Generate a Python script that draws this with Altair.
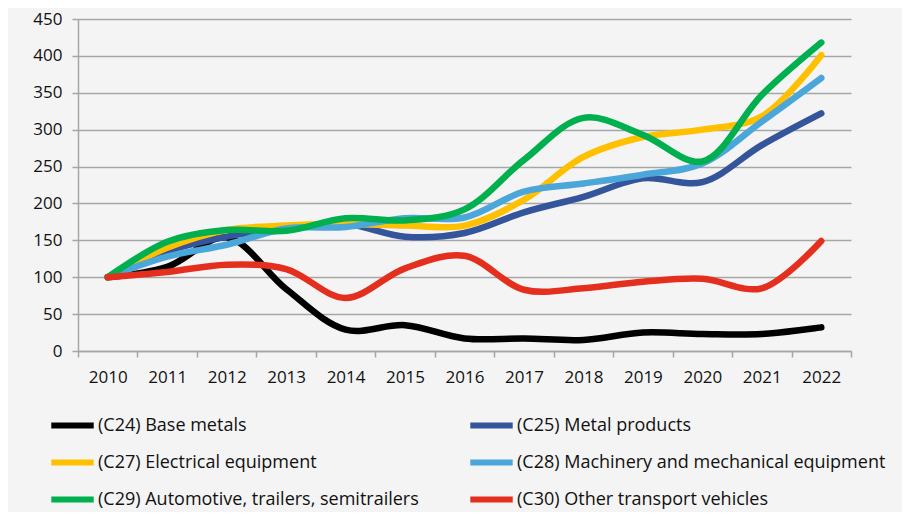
import altair as alt
import pandas as pd

years = ["2010", "2011", "2012", "2013", "2014", "2015", "2016",
         "2017", "2018", "2019", "2020", "2021", "2022"]

series_names = [
    "(C24) Base metals",
    "(C25) Metal products",
    "(C27) Electrical equipment",
    "(C28) Machinery and mechanical equipment",
    "(C29) Automotive, trailers, semitrailers",
    "(C30) Other transport vehicles",
]

c24 = [100, 114, 154, 84, 29, 35, 17, 17, 15, 25, 23, 23, 32]
c25 = [100, 135, 155, 166, 172, 155, 160, 188, 209, 234, 229, 279, 322]
c27 = [100, 140, 164, 170, 172, 170, 170, 205, 263, 290, 300, 318, 401]
c28 = [100, 128, 144, 166, 168, 180, 181, 216, 227, 239, 254, 311, 370]
c29 = [100, 148, 164, 163, 180, 177, 192, 259, 316, 293, 257, 347, 418]
c30 = [100, 107, 117, 111, 72, 112, 129, 83, 85, 94, 98, 85, 149]

colors = ["#000000", "#34559b", "#ffc000", "#4ba6d9", "#00b04f", "#e52f1e"]

all_values = [c24, c25, c27, c28, c29, c30]
rows = []
for name, vals in zip(series_names, all_values):
    for y, v in zip(years, vals):
        rows.append({"year": y, "value": v, "series": name})
df = pd.DataFrame(rows)

# legend fills column by column: order the domain so rows read C24|C25, C27|C28, C29|C30
legend_order = [0, 2, 4, 1, 3, 5]
domain = [series_names[i] for i in legend_order]
rng = [colors[i] for i in legend_order]

FONT = "Open Sans"

chart = alt.Chart(df).mark_line(
    interpolate="catmull-rom", strokeWidth=6.5, strokeCap="round", strokeJoin="round"
).encode(
    x=alt.X("year:O", bandPosition=0.5,
            scale=alt.Scale(type="band", paddingInner=0, paddingOuter=0),
            axis=alt.Axis(title=None, labelAngle=0, tickBand="extent", grid=False,
                          labelFontSize=17, labelFont=FONT, labelColor="#111111",
                          labelPadding=12, tickSize=6, tickColor="#a6a6a6",
                          domainColor="#a6a6a6", domainWidth=1.5, tickWidth=1.5)),
    y=alt.Y("value:Q", scale=alt.Scale(domain=[0, 450], nice=False),
            axis=alt.Axis(title=None, values=list(range(0, 451, 50)),
                          labelFontSize=17, labelFont=FONT, labelColor="#111111",
                          labelPadding=10, tickSize=6, tickColor="#a6a6a6",
                          gridColor="#a6a6a6", gridWidth=1.5, tickWidth=1.5,
                          domainColor="#a6a6a6", domainWidth=1.5)),
    color=alt.Color("series:N", sort=domain,
                    scale=alt.Scale(domain=domain, range=rng),
                    legend=alt.Legend(title=None, orient="none", legendX=-30, legendY=388,
                                      columns=2, columnPadding=48, rowPadding=0,
                                      symbolType="stroke", symbolSize=1800,
                                      symbolStrokeWidth=6, clipHeight=37,
                                      labelFont=FONT, labelFontSize=18, labelColor="#111111",
                                      labelOffset=1, labelLimit=500)),
    order=alt.Order("year:O"),
).properties(
    width=773, height=332,
    background="#f4f4f4",
    padding={"left": 70, "top": 11, "right": 51, "bottom": 161},
    autosize=alt.AutoSizeParams(type="none"),
).configure_view(stroke=None)

chart.save("out.html", embed_options={"renderer": "svg", "actions": False})
